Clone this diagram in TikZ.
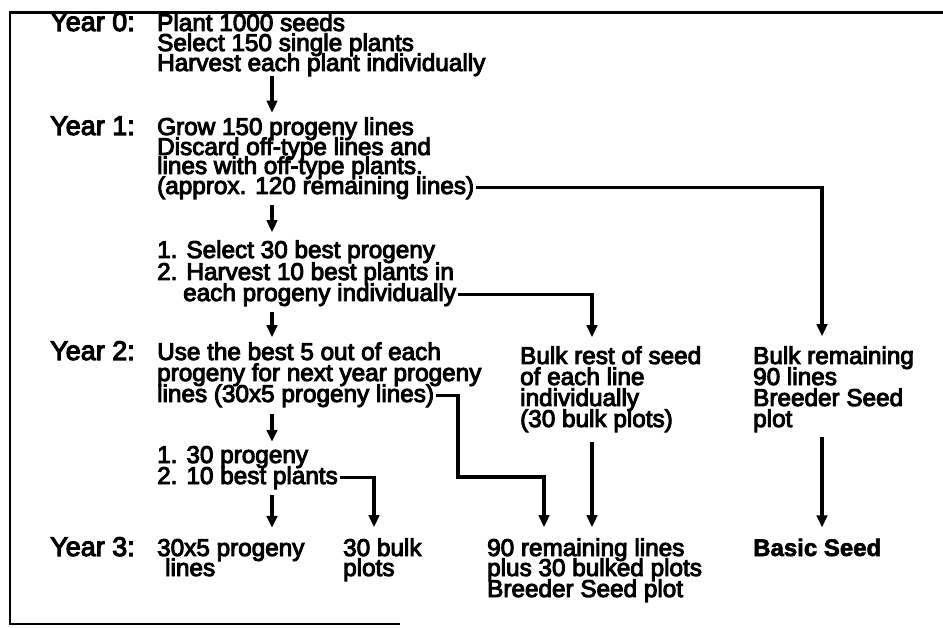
\documentclass[tikz,border=0pt]{standalone}
\usepackage{fontspec}
\setmainfont{Liberation Sans}
\newfontfamily\bodyfont{Liberation Sans}[FakeBold=4]
\newfontfamily\yearfont{Liberation Sans}[FakeBold=4]
\newfontfamily\heavyfont{Liberation Sans}[BoldFeatures={FakeBold=2.5}]
\usetikzlibrary{arrows.meta}
\begin{document}
\begin{tikzpicture}[x=1pt,y=-1pt,
  txt/.style={anchor=base west, inner sep=0pt, font=\bodyfont\fontsize{24.3}{20}\selectfont},
  yr/.style={anchor=base west, inner sep=0pt, font=\yearfont\fontsize{27}{20}\selectfont},
  heavy/.style={anchor=base west, inner sep=0pt, font=\heavyfont\bfseries\fontsize{24}{20}\selectfont},
  arr/.style={line width=3.2pt, -{Triangle[length=12pt,width=10.5pt]}},
  frameline/.style={line width=2.8pt}]
\useasboundingbox (0,0) rectangle (943,628);
% frame
\draw[frameline] (943,12.5) -- (10,12.5) -- (10,624) -- (400,624);
% columns
\coordinate (cA) at (272,0);
\coordinate (cB) at (374,0);
\coordinate (cK) at (458,477);
\coordinate (cJ) at (544,0);
\coordinate (cM) at (592,0);
\coordinate (cR) at (822,0);
% year labels
\node[yr] (yr0) at (50,31) {Year 0:};
\node[yr] (yr1) at (50,135) {Year 1:};
\node[yr] (yr2) at (50,360) {Year 2:};
\node[yr] (yr3) at (50,556) {Year 3:};
% year 0
\node[txt] (a1) at (157,31) {Plant 1000 seeds};
\node[txt] (a2) at (157,51) {Select 150 single plants};
\node[txt] (a3) at (157,71) {Harvest each plant individually};
% year 1
\node[txt] (b1) at (157,135) {Grow 150 progeny lines};
\node[txt] (b2) at (157,155) {Discard off-type lines and};
\node[txt] (b3) at (157,174) {lines with off-type plants.};
\node[txt] (b4) at (157,194) {(approx. 120 remaining lines)};
\node[txt] (c1) at (157,258) {1. Select 30 best progeny};
\node[txt] (c2) at (157,280) {2. Harvest 10 best plants in};
\node[txt] (c3) at (183,301) {each progeny individually};
% year 2
\node[txt] (d1) at (157,360) {Use the best 5 out of each};
\node[txt] (d2) at (157,381) {progeny for next year progeny};
\node[txt] (d3) at (157,402) {lines (30x5 progeny lines)};
\node[txt] (e1) at (520,364) {Bulk rest of seed};
\node[txt] (e2) at (520,385) {of each line};
\node[txt] (e3) at (520,406) {individually};
\node[txt] (e4) at (520,427) {(30 bulk plots)};
\node[txt] (f1) at (753,364) {Bulk remaining};
\node[txt] (f2) at (753,385) {90 lines};
\node[txt] (f3) at (753,406) {Breeder Seed};
\node[txt] (f4) at (753,427) {plot};
\node[txt] (g1) at (157,463) {1. 30 progeny};
\node[txt] (g2) at (157,484) {2. 10 best plants};
% year 3
\node[txt] (h1) at (157,556) {30x5 progeny};
\node[txt] (h2) at (165,576) {lines};
\node[txt] (i1) at (343,556) {30 bulk};
\node[txt] (i2) at (343,576) {plots};
\node[txt] (j1) at (487,556) {90 remaining lines};
\node[txt] (j2) at (487,576) {plus 30 bulked plots};
\node[txt] (j3) at (487,597) {Breeder Seed plot};
\node[heavy] (k1) at (753,556) {Basic Seed};
% main column arrows
\draw[arr, shorten >=4.5pt] (a3.south -| cA) -- (b1.north -| cA);
\draw[arr, shorten <=6pt, shorten >=8pt] (b4.south -| cA) -- (c1.north -| cA);
\draw[arr, shorten <=6pt, shorten >=5pt] (c3.south -| cA) -- (d1.north -| cA);
\draw[arr, shorten <=7pt, shorten >=4pt] (d3.south -| cA) -- (g1.north -| cA);
\draw[arr, shorten <=6pt, shorten >=11pt] (g2.south -| cA) -- (h1.north -| cA);
% branch connectors
\draw[arr, shorten <=2pt, shorten >=10pt] (b4.east) -| (f1.north -| cR);
\draw[arr, shorten <=2pt, shorten >=9pt] (c3.east) -| (e1.north -| cM);
\draw[arr, shorten <=2pt, shorten >=11pt] (d3.east) -| (cK) -| (j1.north -| cJ);
\draw[arr, shorten <=2pt, shorten >=11pt] (g2.east) -| (i1.north -| cB);
\draw[arr, shorten <=10pt, shorten >=11pt] (e4.south -| cM) -- (j1.north -| cM);
\draw[arr, shorten <=5pt, shorten >=11pt] (f4.south -| cR) -- (k1.north -| cR);
\end{tikzpicture}
\end{document}
